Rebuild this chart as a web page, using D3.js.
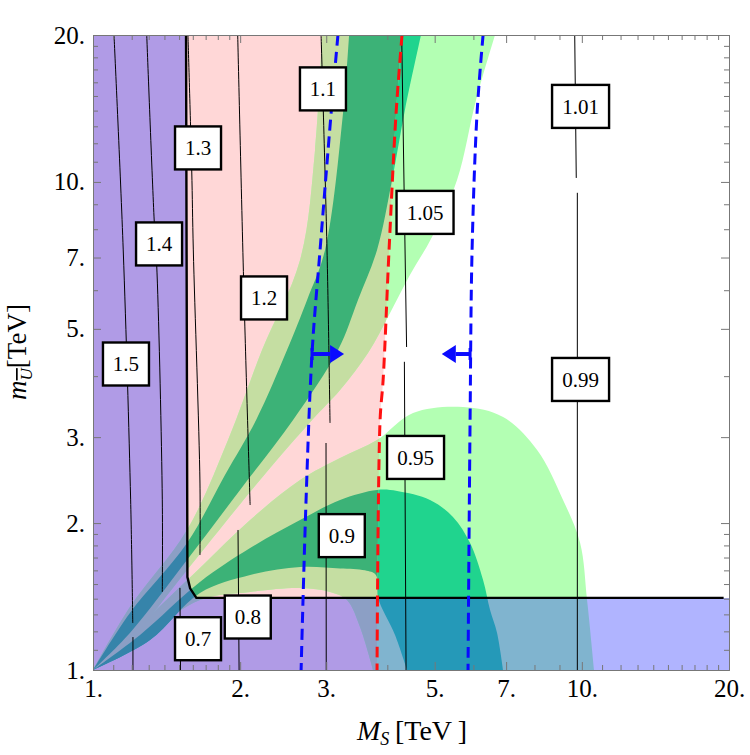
<!DOCTYPE html>
<html>
<head>
<meta charset="utf-8">
<title>M_S vs m_U contours</title>
<script src="https://d3js.org/d3.v7.min.js"></script>
<style>
  body { margin: 0; background: #fff; }
  svg text { font-family: "Liberation Serif", "Times New Roman", "DejaVu Serif", serif !important; }
</style>
</head>
<body>
<div id="chart"></div>
<script>

// ---- tick values ----
var majorTicks = [1, 2, 3, 5, 7, 10, 20];
var majorLabels = ["1.", "2.", "3.", "5.", "7.", "10.", "20."];
var minorTicks = [1.1, 1.2, 1.3, 1.4, 1.5, 1.6, 1.7, 1.8, 1.9, 4, 6, 8, 9,
                  11, 12, 13, 14, 15, 16, 17, 18, 19];

// ---- region boundaries, [M_S, m_U] in TeV ----
// red dashed line, also the right edge of the pink region
var redLine = [[4.287, 20], [4.169, 13.85], [4.033, 7.255], [3.922, 3.93], [3.866, 3.253], [3.811, 1]];
var blueLeft = [[3.17, 20], [3.07, 13.85], [2.914, 7.255], [2.806, 4.46], [2.728, 2.23], [2.665, 1]];
var blueRight = [[6.28, 20], [6.105, 13.85], [5.963, 7.255], [5.907, 3.253], [5.85, 1]];

// thick black boundary (blue shaded region lies left / below it)
var thickLine = [[1.55, 20], [1.56, 1.55], [1.58, 1.47], [1.627, 1.405], [19.5, 1.405]];

// upper band (set A): outer and inner edges
var bandAOuterLeft = [[1, 1], [1.19, 1.346], [1.557, 1.936], [1.889, 2.96], [2.217, 4.525], [2.652, 6.922], [2.846, 11.63], [2.942, 20]];
var bandAOuterRight = [[6.644, 20], [6.075, 14.72], [5.555, 10.09], [4.937, 7.715], [4.452, 6.45], [4.052, 5.39], [3.652, 4.462], [3.202, 3.748], [2.806, 3.253], [2.196, 2.451], [1.557, 1.603], [1.19, 1.152], [1, 1]];
var bandAInnerLeft = [[1, 1], [1.19, 1.309], [1.557, 1.82], [1.862, 2.51], [2.156, 3.253], [2.494, 4.525], [2.741, 5.731], [2.983, 7.255], [3.247, 13.85], [3.341, 20]];
var bandAInnerRight = [[4.688, 20], [4.347, 14.05], [4.091, 10.09], [3.811, 7.255], [3.484, 5.731], [3.171, 4.525], [2.566, 3.253], [1.999, 2.338], [1.557, 1.68], [1.19, 1.191], [1, 1]];

// lower dome (set B): outer and inner edges
var bandBOuterTop = [[1, 1], [1.248, 1.236], [1.655, 1.618], [2.096, 2.029], [2.652, 2.451], [3.202, 2.719], [3.811, 2.96], [4.515, 3.363], [5.715, 3.459], [6.9, 3.3], [8.1, 2.824], [9.152, 2.231], [9.92, 1.82], [10.25, 1.391], [10.59, 1]];
var bandBOuterBottom = [[3.74, 1], [3.517, 1.225], [3.308, 1.391], [3.054, 1.445], [2.652, 1.472], [2.096, 1.445], [1.655, 1.391], [1.308, 1.196], [1, 1]];
var bandBInnerTop = [[1, 1], [1.248, 1.18], [1.655, 1.515], [2.096, 1.778], [2.652, 2.029], [3.202, 2.231], [3.811, 2.338], [4.188, 2.327], [4.891, 2.231], [5.45, 2.058], [5.907, 1.82], [6.28, 1.529], [6.49, 1.327], [6.708, 1.191], [6.9, 1]];
var bandBInnerBottom = [[4.389, 1], [4.148, 1.18], [3.83, 1.405], [3.79, 1.565], [3.6, 1.6], [3.202, 1.615], [2.652, 1.626], [2.096, 1.565], [1.655, 1.438], [1.308, 1.152], [1, 1]];

// ---- thin contour lines ----
var c150a = [[1.104, 20], [1.153, 7.255], [1.194, 2.231], [1.206, 1.248]];
var c150b = [[1.207, 1.168], [1.207, 1]];
var c140 = [[1.288, 20], [1.333, 8.478], [1.352, 6.51], [1.386, 2.231], [1.386, 1.445]];
var c130 = [[1.564, 20], [1.592, 10.58], [1.604, 7.255], [1.655, 2.416], [1.655, 1.72]];
var c120 = [[1.977, 20], [2.037, 5.812], [2.096, 2.178]];
var c080 = [[1.98, 1.936], [1.99, 1]];
var c070 = [[1.506, 1.473], [1.51, 1]];
var c110 = [[2.928, 20], [3.011, 7.255], [3.054, 3.208]];
var c090 = [[2.997, 2.918], [3.0, 1]];
var c105 = [[4.28, 20], [4.38, 4.59]];
var c095 = [[4.335, 4.28], [4.369, 1]];
var c101 = [[9.67, 20], [9.74, 10.19]];
var c099 = [[9.79, 9.5], [9.79, 1]];
var contourLines = [c150a, c150b, c140, c130, c120, c080, c070, c110, c090, c105, c095, c101, c099];

// ---- contour labels ----
var labelNames = ["1.5", "1.4", "1.3", "1.2", "1.1", "1.05", "1.01", "0.99", "0.95", "0.9", "0.8", "0.7"];
var labelX = [1.168, 1.365, 1.64, 2.238, 2.954, 4.778, 9.94, 9.94, 4.569, 3.228, 2.073, 1.64];
var labelY = [4.236, 7.464, 11.74, 5.785, 15.51, 8.661, 14.28, 3.938, 2.726, 1.885, 1.284, 1.159];

// ---- arrows on the blue lines: [from, to] in M_S at m_U = arrowY ----
var arrowY = 4.44;
var arrowFrom = [2.806, 5.907];
var arrowTo = [3.263, 5.17];

var serif = "'Liberation Serif', 'Times New Roman', serif";

// scales
var x = d3.scaleLog().domain([1, 20]).range([93, 729]);
var y = d3.scaleLog().domain([1, 20]).range([670, 35]);

var svg = d3.select("#chart")
  .append("svg")
    .attr("width", 750)
    .attr("height", 755);

var defs = svg.append("defs");
defs.append("clipPath").attr("id", "plotClip")
  .append("rect")
    .attr("x", x(1)).attr("y", y(20))
    .attr("width", x(20) - x(1)).attr("height", y(1) - y(20));

var smooth = d3.line()
  .x(function(d) { return x(d[0]); })
  .y(function(d) { return y(d[1]); })
  .curve(d3.curveCatmullRom.alpha(0.5));
var straight = d3.line()
  .x(function(d) { return x(d[0]); })
  .y(function(d) { return y(d[1]); });

// two edges joined into one closed area
function region(a, b) {
  return smooth(a) + smooth(b).replace(/^M/, "L") + "Z";
}

var pinkPath = region([[1, 1], [1, 20]], redLine);
defs.append("clipPath").attr("id", "pinkClip")
  .append("path").attr("d", pinkPath);

var plot = svg.append("g").attr("clip-path", "url(#plotClip)");

// pink region
plot.append("path").attr("d", pinkPath).attr("fill", "#ffd7d7");

// green bands: colours on white, then redrawn inside the pink region
function drawBands(g, light, dark) {
  g.append("path").attr("d", region(bandBOuterTop, bandBOuterBottom)).attr("fill", light);
  g.append("path").attr("d", region(bandAOuterLeft, bandAOuterRight)).attr("fill", light);
  g.append("path").attr("d", region(bandBInnerTop, bandBInnerBottom)).attr("fill", dark);
  g.append("path").attr("d", region(bandAInnerLeft, bandAInnerRight)).attr("fill", dark);
}
drawBands(plot.append("g"), "#b3ffb3", "#20d48e");
drawBands(plot.append("g").attr("clip-path", "url(#pinkClip)"), "#c5dea2", "#3cb277");

// blue shaded (excluded) region
var overlay = [[1, 1], [1, 20]].concat(thickLine, [[20, 1.405], [20, 1]]);
plot.append("path")
  .attr("d", straight(overlay) + "Z")
  .attr("fill", "rgb(44,55,255)")
  .attr("fill-opacity", 0.375);

// thin contours
plot.selectAll(".contour")
  .data(contourLines)
  .enter().append("path")
    .attr("class", "contour")
    .attr("d", smooth)
    .attr("fill", "none")
    .attr("stroke", "#000")
    .attr("stroke-width", 1);

// thick boundary
plot.append("path")
  .attr("d", straight(thickLine))
  .attr("fill", "none")
  .attr("stroke", "#000")
  .attr("stroke-width", 2.4);

// dashed lines
[[blueLeft, "#0a0aff"], [redLine, "#ff1010"], [blueRight, "#0a0aff"]].forEach(function(l) {
  plot.append("path")
    .attr("d", smooth(l[0]))
    .attr("fill", "none")
    .attr("stroke", l[1])
    .attr("stroke-width", 3)
    .attr("stroke-dasharray", "11,6");
});

// arrows
arrowFrom.forEach(function(x0, i) {
  var x1 = x(arrowTo[i]), xs = x(x0), yy = y(arrowY);
  var dir = x1 > xs ? 1 : -1;
  var base = x1 - dir * 14;
  svg.append("line")
    .attr("x1", xs).attr("x2", base)
    .attr("y1", yy).attr("y2", yy)
    .attr("stroke", "#0a0aff").attr("stroke-width", 4);
  svg.append("line")
    .attr("x1", xs).attr("x2", xs)
    .attr("y1", yy - 6).attr("y2", yy + 6)
    .attr("stroke", "#0a0aff").attr("stroke-width", 3);
  svg.append("path")
    .attr("d", "M" + x1 + "," + yy + "L" + base + "," + (yy - 9) + "L" + base + "," + (yy + 9) + "Z")
    .attr("fill", "#0a0aff");
});

// contour label boxes
var labels = svg.selectAll(".clabel")
  .data(labelNames)
  .enter().append("g")
    .attr("class", "clabel")
    .attr("transform", function(d, i) {
      return "translate(" + x(labelX[i]) + "," + y(labelY[i]) + ")";
    });
labels.append("rect")
  .attr("x", function(d) { return d.length > 3 ? -28.5 : -23; })
  .attr("width", function(d) { return d.length > 3 ? 57 : 46; })
  .attr("y", -21.5)
  .attr("height", 43)
  .attr("fill", "#fff")
  .attr("stroke", "#000")
  .attr("stroke-width", 2.4);
labels.append("text")
  .attr("text-anchor", "middle")
  .attr("dy", "0.35em")
  .attr("font-family", serif)
  .attr("font-size", "21px")
  .text(function(d) { return d; });

// axes
function styleAxis(g) {
  g.attr("font-family", serif);
  g.selectAll("path, line").attr("stroke", "#777");
  g.selectAll("text").attr("font-size", "25px").attr("fill", "#000")
    .attr("font-family", serif);
}
function fmt(d) { return majorLabels[majorTicks.indexOf(d)]; }

svg.append("g").attr("transform", "translate(0," + y(1) + ")")
  .call(d3.axisBottom(x).tickValues(majorTicks).tickFormat(fmt).tickSize(-8).tickSizeOuter(0).tickPadding(9))
  .call(styleAxis);
svg.append("g").attr("transform", "translate(0," + y(1) + ")")
  .call(d3.axisBottom(x).tickValues(minorTicks).tickFormat("").tickSize(-5).tickSizeOuter(0))
  .call(styleAxis);
svg.append("g").attr("transform", "translate(" + x(1) + ",0)")
  .call(d3.axisLeft(y).tickValues(majorTicks).tickFormat(fmt).tickSize(-8).tickSizeOuter(0).tickPadding(8))
  .call(styleAxis);
svg.append("g").attr("transform", "translate(" + x(1) + ",0)")
  .call(d3.axisLeft(y).tickValues(minorTicks).tickFormat("").tickSize(-5).tickSizeOuter(0))
  .call(styleAxis);
svg.append("g").attr("transform", "translate(0," + y(20) + ")")
  .call(d3.axisTop(x).tickValues(majorTicks).tickFormat("").tickSize(-8).tickSizeOuter(0))
  .call(styleAxis);
svg.append("g").attr("transform", "translate(0," + y(20) + ")")
  .call(d3.axisTop(x).tickValues(minorTicks).tickFormat("").tickSize(-5).tickSizeOuter(0))
  .call(styleAxis);
svg.append("g").attr("transform", "translate(" + x(20) + ",0)")
  .call(d3.axisRight(y).tickValues(majorTicks).tickFormat("").tickSize(-8).tickSizeOuter(0))
  .call(styleAxis);
svg.append("g").attr("transform", "translate(" + x(20) + ",0)")
  .call(d3.axisRight(y).tickValues(minorTicks).tickFormat("").tickSize(-5).tickSizeOuter(0))
  .call(styleAxis);

// axis titles
var xt = svg.append("text")
  .attr("x", 412).attr("y", 740)
  .attr("text-anchor", "middle")
  .attr("font-family", serif)
  .attr("font-size", "28px");
xt.append("tspan").attr("font-style", "italic").text("M");
xt.append("tspan").attr("font-style", "italic").attr("font-size", "18px").attr("dy", 5).text("S");
xt.append("tspan").attr("dy", -5).text("\u2009[TeV\u2009]");

var yt = svg.append("text")
  .attr("transform", "translate(26,352) rotate(-90)")
  .attr("text-anchor", "middle")
  .attr("font-family", serif)
  .attr("font-size", "27px");
yt.append("tspan").attr("font-style", "italic").text("m");
yt.append("tspan").attr("font-style", "italic").attr("font-size", "17px").attr("dy", 6)
  .attr("text-decoration", "overline").text("U");
yt.append("tspan").attr("dy", -6).text("[TeV]");

</script>
</body>
</html>
